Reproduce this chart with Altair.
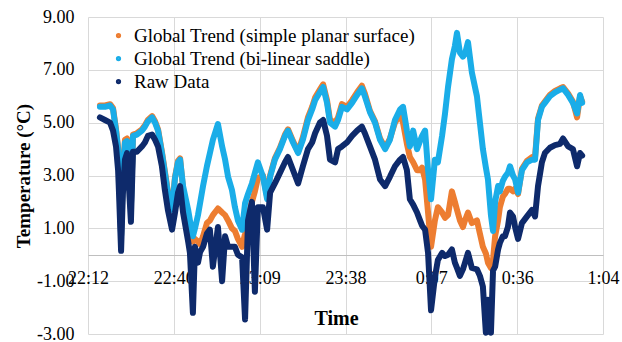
import altair as alt
import pandas as pd

# minutes after 22:12
minutes = [
    4.0, 5.7, 7.4, 8.4, 9.4, 10.1, 10.4, 11.1, 11.7, 12.4,
    13.1, 14.4, 15.1, 16.4, 18.1, 19.1, 20.1, 21.5, 22.5, 23.5,
    24.8, 25.8, 26.8, 28.2, 29.2, 30.2, 30.9, 31.9, 33.6, 34.2,
    35.2, 35.9, 36.9, 37.6, 38.6, 39.9, 40.9, 41.9, 43.6, 45.0,
    46.0, 47.0, 48.3, 49.3, 50.3, 51.7, 52.7, 53.7, 55.0, 56.0,
    57.0, 58.7, 60.1, 61.1, 62.7, 64.4, 66.1, 67.1, 68.8, 70.5,
    72.1, 73.8, 75.2, 76.2, 77.8, 78.9, 80.2, 81.2, 82.9, 83.9,
    85.2, 86.9, 88.6, 90.3, 91.9, 92.9, 94.6, 96.3, 98.0, 99.7,
    101.3, 103.0, 104.7, 105.7, 107.0, 108.0, 109.1, 110.4, 111.4, 112.1,
    113.1, 114.1, 115.1, 116.4, 117.4, 118.8, 119.8, 120.8, 122.1, 123.1,
    123.8, 124.8, 125.8, 126.5, 127.5, 128.8, 130.5, 131.5, 132.5, 133.5,
    134.2, 135.2, 135.9, 136.6, 137.6, 138.2, 139.2, 139.9, 140.9, 141.6,
    142.6, 143.3, 144.3, 145.6, 147.3, 149.0, 150.0, 151.0, 152.3, 153.3,
    155.0, 156.7, 158.4, 159.4, 161.1, 162.7, 164.1, 165.1, 165.8,
]

raw_data = [
    5.2, 5.1, 5.0, 4.7, 4.1, 3.2, 2.35, 0.15, 2.3, 3.6,
    3.85, 1.25, 3.9, 3.9, 4.1, 4.25, 4.5, 4.55, 4.35, 4.1,
    3.35, 2.45, 1.7, 0.95, 1.6, 2.35, 2.6, 1.6, 0.5, 0.07,
    -2.2, 0.3, -0.3, 0.1, 0.3, 0.8, 0.95, -0.45, 1.05, -1.0,
    0.7, 0.3, 0.3, 0.3, 0.0, -0.1, -2.45, 1.3, 2.0, -1.4,
    1.8, 1.8, 0.95, 2.35, 2.7, 3.1, 3.5, 3.7, 3.2, 2.7,
    3.35, 4.0, 4.25, 4.6, 5.0, 5.1, 4.5, 3.6, 3.5, 4.0,
    4.1, 4.25, 4.5, 4.7, 4.85, 4.6, 4.1, 3.6, 2.85, 2.6,
    2.95, 3.35, 3.6, 3.7, 3.2, 2.1, 1.9, 1.6, 1.3, 1.1,
    0.95, 0.07, -2.1, -0.85, -0.2, 0.07, -0.05, 0.0, 0.2, -0.3,
    -0.5, -0.8, -0.55, -0.3, 0.07, -0.5, -0.55, -0.8, -1.2, -2.95,
    -1.7, -2.95, -0.6, -0.45, 0.2, 0.45, 0.7, 0.7, 1.05, 1.6,
    1.45, 1.05, 0.6, 1.2, 1.45, 1.7, 1.45, 2.6, 3.5, 3.85,
    4.05, 4.15, 4.2, 4.4, 4.1, 4.0, 3.35, 3.85, 3.75,
]

saddle_trend = [
    5.6, 5.6, 5.65, 5.5, 4.7, 4.0, 3.2, 0.7, 3.0, 4.25,
    4.3, 1.8, 4.5, 4.55, 4.7, 4.85, 5.05, 5.2, 5.0, 4.7,
    3.85, 3.1, 2.35, 1.7, 2.9, 3.5, 3.6, 2.6, 1.7, 1.3,
    0.7, 1.0, 1.5, 1.95, 2.6, 3.35, 3.85, 4.35, 4.95, 4.1,
    3.6, 2.95, 2.45, 1.8, 1.3, 0.95, 1.95, 2.3, 2.7, 3.1,
    3.5, 2.95, 2.1, 2.95, 3.6, 4.0, 4.5, 4.7, 4.25, 3.85,
    4.35, 5.1, 5.5, 5.85, 6.15, 6.35, 5.75, 5.0, 4.85, 5.1,
    5.6, 5.5, 5.75, 6.05, 6.3, 6.0, 5.4, 5.0, 4.35, 4.0,
    4.35, 5.1, 5.5, 5.6, 4.7, 4.1, 4.7, 4.0, 4.3, 4.5,
    4.7, 3.2, 2.1, 3.6, 3.5, 4.5, 5.35, 6.35, 7.4, 7.9,
    8.4, 7.65, 7.5, 7.6, 8.05, 6.9, 6.0, 5.0, 4.0, 3.3,
    2.85, 1.5, 0.9, 2.0, 2.6, 2.4, 2.8, 2.95, 3.1, 3.35,
    3.0, 2.85, 2.35, 3.2, 3.5, 3.6, 3.6, 5.1, 5.6, 5.75,
    6.0, 6.15, 6.25, 6.3, 6.05, 5.75, 5.35, 6.05, 5.75,
]

planar_trend = [
    5.65, 5.65, 5.7, 5.55, 4.75, 4.05, 3.25, 0.75, 3.05, 4.35,
    4.4, 1.85, 4.55, 4.6, 4.75, 4.9, 5.1, 5.25, 5.05, 4.75,
    3.9, 3.15, 2.4, 1.75, 2.95, 3.55, 3.65, 2.5, 1.2, 0.8,
    0.5, 0.6, 0.5, 0.4, 0.7, 1.2, 1.3, 1.5, 1.75, 1.6,
    1.5, 1.3, 1.0, 0.9, 0.6, 0.3, 0.8, 1.4, 2.0, 2.4,
    2.9, 3.0, 2.2, 3.0, 3.65, 4.05, 4.55, 4.75, 4.3, 3.9,
    4.45, 5.2, 5.6, 5.95, 6.25, 6.45, 5.85, 5.1, 5.0, 5.2,
    5.7, 5.6, 5.85, 6.15, 6.4, 6.1, 5.45, 5.05, 4.4, 4.05,
    4.4, 5.0, 5.3, 5.0, 4.2, 3.7, 3.5, 3.2, 3.2, 3.3,
    2.85, 1.6, 0.3, 1.3, 1.8, 1.6, 1.4, 1.5, 2.4, 2.0,
    1.7, 1.3, 1.05, 1.3, 1.6, 1.2, 1.3, 0.8, 0.3, 0.05,
    -0.3, -0.5, -0.2, 0.7, 1.3, 1.8, 2.2, 2.3, 2.5, 2.5,
    2.4, 2.5, 2.3, 3.25, 3.55, 3.7, 3.7, 5.15, 5.65, 5.8,
    6.05, 6.2, 6.3, 6.35, 6.1, 5.8, 5.2, 6.0, 5.8,
]

series_names = [
    "Global Trend (simple planar surface)",
    "Global Trend (bi-linear saddle)",
    "Raw Data",
]
series_colors = ["#ED7D31", "#1AADE8", "#0E2A6B"]

tick_minutes = [0, 28.8, 57.6, 86.4, 115.2, 144.0, 172.8]
tick_labels = ["22:12", "22:40", "23:09", "23:38", "0:07", "0:36", "1:04"]
y_ticks = [-3, -1, 1, 3, 5, 7, 9]

frames = []
for name, vals in zip(series_names, [planar_trend, saddle_trend, raw_data]):
    frames.append(pd.DataFrame({"minutes": minutes, "temp": vals, "series": name}))
df = pd.concat(frames, ignore_index=True)

FONT = "Liberation Serif"
label_expr = "[" + ",".join("'%s'" % t for t in tick_labels) + "][round(datum.value / 28.8)]"
y_label_expr = "(datum.value < 0 ? '-' : '') + format(abs(datum.value), '.2f')"

x_enc = alt.X(
    "minutes:Q",
    scale=alt.Scale(domain=[0, 172.8], nice=False, zero=False),
    axis=alt.Axis(
        values=tick_minutes, labelExpr=label_expr, labelFont=FONT, labelFontSize=18,
        labelColor="black", labelPadding=14, labelFlush=False, labelOverlap=False,
        ticks=False, domain=True, domainColor="#bfbfbf", domainWidth=1,
        grid=True, gridColor="#d9d9d9", gridWidth=1, offset=-79,
        title="Time", titleFont=FONT, titleFontSize=20, titleFontWeight="bold",
        titleColor="black", titleX=248, titleY=63, titleAlign="center",
        titleBaseline="middle",
    ),
)
y_enc = alt.Y(
    "temp:Q",
    scale=alt.Scale(domain=[-3, 9], nice=False, zero=False),
    axis=alt.Axis(
        values=y_ticks, labelExpr=y_label_expr, labelFont=FONT, labelFontSize=18,
        labelColor="black", labelPadding=14, ticks=False, domain=False,
        grid=True, gridColor="#d9d9d9", gridWidth=1,
        title="Temperature  (°C)", titleFont=FONT, titleFontSize=19,
        titleFontWeight="bold", titleColor="black", titleX=-65, titleY=158.5,
        titleAngle=270, titleAlign="center", titleBaseline="middle",
    ),
)
color_enc = alt.Color(
    "series:N",
    scale=alt.Scale(domain=series_names, range=series_colors),
    legend=alt.Legend(
        title=None, orient="none", legendX=21, legendY=9, symbolType="circle",
        symbolSize=6, symbolStrokeWidth=2.8, labelFont=FONT, labelFontSize=19,
        labelColor="black", labelOffset=6, labelLimit=400, rowPadding=3, padding=0,
    ),
)

layers = []
for name in series_names:
    layers.append(
        alt.Chart(df)
        .transform_filter(alt.datum.series == name)
        .mark_line(strokeWidth=6, strokeJoin="round", strokeCap="round")
        .encode(x=x_enc, y=y_enc, color=color_enc)
    )

chart = (
    alt.layer(*layers)
    .properties(
        width=515, height=317,
        autosize=alt.AutoSizeParams(type="none"),
        padding={"left": 88, "top": 17, "right": 19, "bottom": 8},
        background="white",
    )
    .configure_view(strokeWidth=0)
)

chart.save("out.html", embed_options={"renderer": "svg", "actions": False})
